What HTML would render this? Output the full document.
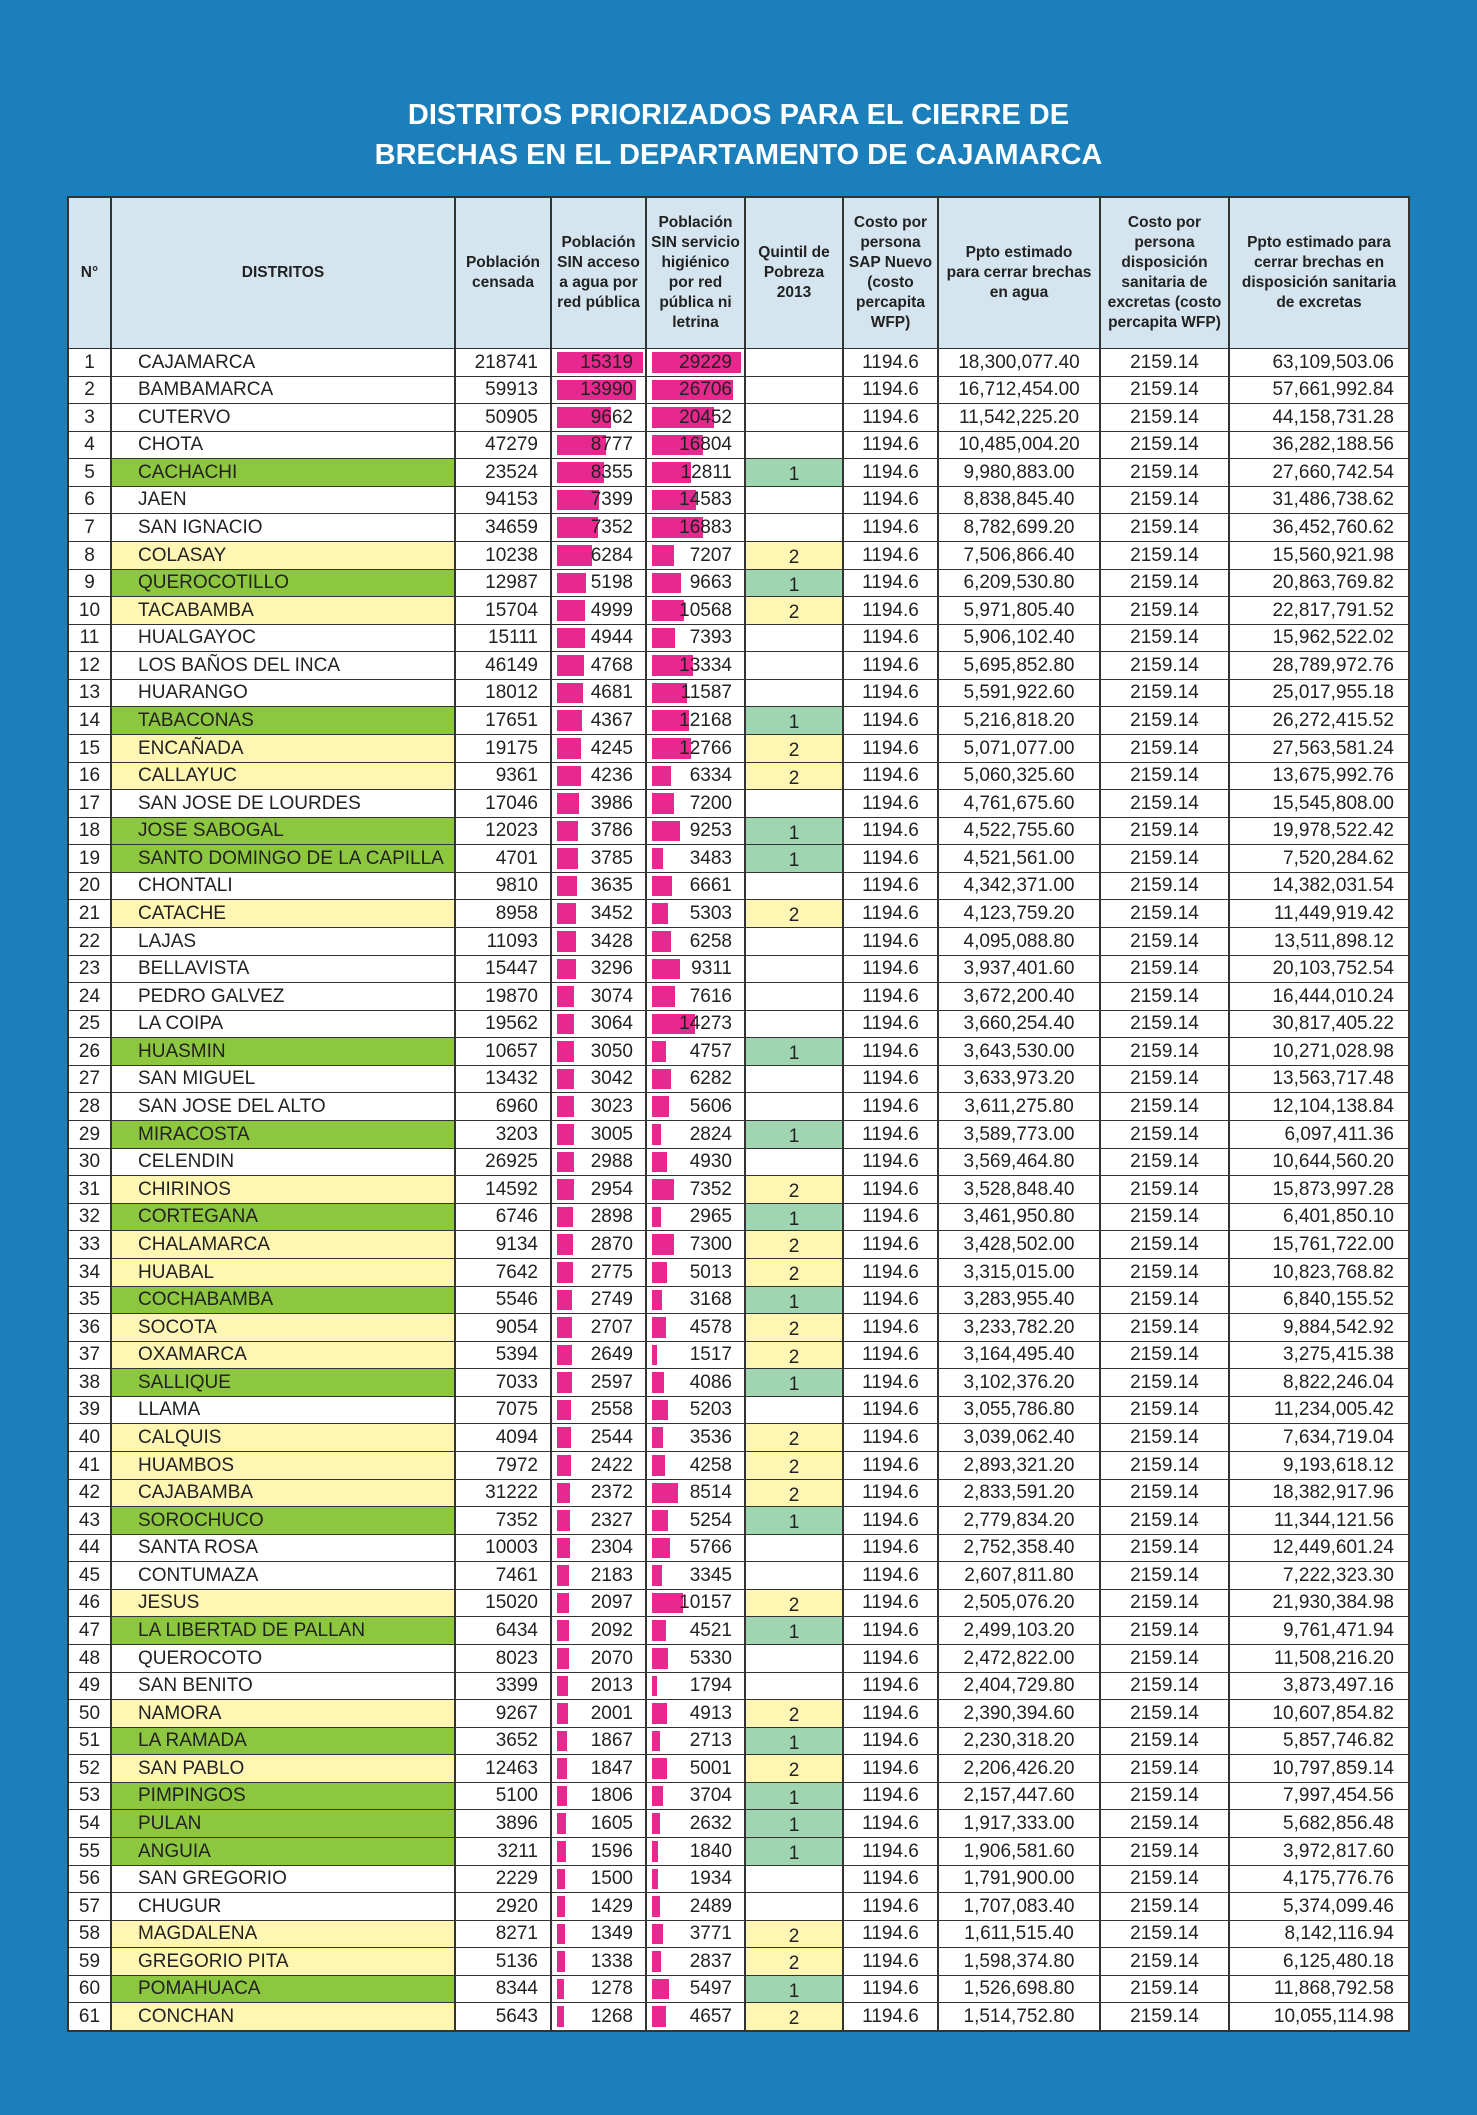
<!DOCTYPE html>
<html><head><meta charset="utf-8"><style>
body{margin:0;width:1477px;height:2115px;background:#1a7fba;position:relative;overflow:hidden;font-family:"Liberation Sans Narrow","Liberation Sans",sans-serif;}
#title{position:absolute;left:0;width:1477px;top:95px;text-align:center;color:#fff;font-family:"Liberation Sans",sans-serif;font-weight:bold;font-size:29px;line-height:40px;}
.c{position:absolute;box-sizing:border-box;border-right:2px solid #333;border-bottom:2px solid #333;color:#222;font-size:19px;white-space:nowrap;overflow:hidden;}
.h{background:#d5e5ef;font-weight:bold;font-size:15.5px;line-height:20px;display:flex;align-items:center;justify-content:center;text-align:center;}
.bar{position:absolute;background:#e8288e;}
.t{position:absolute;top:0;bottom:0;display:flex;align-items:center;}
</style></head><body>
<div id="title">DISTRITOS PRIORIZADOS PARA EL CIERRE DE<br>BRECHAS EN EL DEPARTAMENTO DE CAJAMARCA</div>
<div id="tbl"></div>
<script>
const names=["CAJAMARCA","BAMBAMARCA","CUTERVO","CHOTA","CACHACHI","JAEN","SAN IGNACIO","COLASAY","QUEROCOTILLO","TACABAMBA","HUALGAYOC","LOS BAÑOS DEL INCA","HUARANGO","TABACONAS","ENCAÑADA","CALLAYUC","SAN JOSE DE LOURDES","JOSE SABOGAL","SANTO DOMINGO DE LA CAPILLA","CHONTALI","CATACHE","LAJAS","BELLAVISTA","PEDRO GALVEZ","LA COIPA","HUASMIN","SAN MIGUEL","SAN JOSE DEL ALTO","MIRACOSTA","CELENDIN","CHIRINOS","CORTEGANA","CHALAMARCA","HUABAL","COCHABAMBA","SOCOTA","OXAMARCA","SALLIQUE","LLAMA","CALQUIS","HUAMBOS","CAJABAMBA","SOROCHUCO","SANTA ROSA","CONTUMAZA","JESUS","LA LIBERTAD DE PALLAN","QUEROCOTO","SAN BENITO","NAMORA","LA RAMADA","SAN PABLO","PIMPINGOS","PULAN","ANGUIA","SAN GREGORIO","CHUGUR","MAGDALENA","GREGORIO PITA","POMAHUACA","CONCHAN"];
const poblacion=[218741,59913,50905,47279,23524,94153,34659,10238,12987,15704,15111,46149,18012,17651,19175,9361,17046,12023,4701,9810,8958,11093,15447,19870,19562,10657,13432,6960,3203,26925,14592,6746,9134,7642,5546,9054,5394,7033,7075,4094,7972,31222,7352,10003,7461,15020,6434,8023,3399,9267,3652,12463,5100,3896,3211,2229,2920,8271,5136,8344,5643];
const sinAgua=[15319,13990,9662,8777,8355,7399,7352,6284,5198,4999,4944,4768,4681,4367,4245,4236,3986,3786,3785,3635,3452,3428,3296,3074,3064,3050,3042,3023,3005,2988,2954,2898,2870,2775,2749,2707,2649,2597,2558,2544,2422,2372,2327,2304,2183,2097,2092,2070,2013,2001,1867,1847,1806,1605,1596,1500,1429,1349,1338,1278,1268];
const sinSanit=[29229,26706,20452,16804,12811,14583,16883,7207,9663,10568,7393,13334,11587,12168,12766,6334,7200,9253,3483,6661,5303,6258,9311,7616,14273,4757,6282,5606,2824,4930,7352,2965,7300,5013,3168,4578,1517,4086,5203,3536,4258,8514,5254,5766,3345,10157,4521,5330,1794,4913,2713,5001,3704,2632,1840,1934,2489,3771,2837,5497,4657];
const quintil=[0,0,0,0,1,0,0,2,1,2,0,0,0,1,2,2,0,1,1,0,2,0,0,0,0,1,0,0,1,0,2,1,2,2,1,2,2,1,0,2,2,2,1,0,0,2,1,0,0,2,1,2,1,1,1,0,0,2,2,1,2];
const costoAgua=1194.6, costoSanit=2159.14;

const X=[67,112,456,552,647,746,844,939,1101,1230,1410];
const TOP=196,HB=349,RH=(2031-349)/61;
const tbl=document.getElementById('tbl');
function cell(ci,y,h,cls){const d=document.createElement('div');d.className='c '+cls;d.style.left=X[ci]+'px';d.style.top=y+'px';d.style.width=(X[ci+1]-X[ci])+'px';d.style.height=h+'px';if(ci==0)d.style.borderLeft='2px solid #333';tbl.appendChild(d);return d;}
const heads=["N°","DISTRITOS","Población<br>censada","Población<br>SIN acceso<br>a agua por<br>red pública","Población<br>SIN servicio<br>higiénico<br>por red<br>pública ni<br>letrina","Quintil de<br>Pobreza<br>2013","Costo por<br>persona<br>SAP Nuevo<br>(costo<br>percapita<br>WFP)","Ppto estimado<br>para cerrar brechas<br>en agua","Costo por<br>persona<br>disposición<br>sanitaria de<br>excretas (costo<br>percapita WFP)","Ppto estimado para<br>cerrar brechas en<br>disposición sanitaria<br>de excretas"];
const hnames=["header-number","header-districts","header-population","header-no-water","header-no-sanitation","header-poverty-quintile","header-water-cost","header-water-budget","header-sanitation-cost","header-sanitation-budget"];
heads.forEach((t,i)=>{const d=cell(i,TOP,HB-TOP+1,'h');d.style.borderTop='2px solid #333';d.innerHTML=t;

});
const fmt=v=>v.toLocaleString('en-US',{minimumFractionDigits:2,maximumFractionDigits:2});
const maxA=Math.max(...sinAgua),maxS=Math.max(...sinSanit);
function txt(d,s,align,pad){const t=document.createElement('div');t.className='t';t.textContent=s;if(align=='l'){t.style.left=pad+'px';}else if(align=='r'){t.style.right=pad+'px';}else{t.style.left='0';t.style.right='0';t.style.justifyContent='center';}d.appendChild(t);return t;}
names.forEach((n,i)=>{
 const y=Math.round(HB+i*RH),h=Math.round(HB+(i+1)*RH)-y+1;
 const q=quintil[i];
 const c0=cell(0,y,h,'');c0.style.background='#fff';txt(c0,String(i+1),'c');
 
 
 const c1=cell(1,y,h,'');c1.style.background=q==1?'#8dc63f':q==2?'#fff6b3':'#fff';txt(c1,n,'l',26);
 
 
 const c2=cell(2,y,h,'');c2.style.background='#fff';txt(c2,String(poblacion[i]),'r',12);
 
 
 const c3=cell(3,y,h,'');c3.style.background='#fff';
 const b1=document.createElement('div');b1.className='bar';b1.style.left='5px';b1.style.top='3px';b1.style.bottom='3px';b1.style.width=(86*sinAgua[i]/maxA)+'px';c3.appendChild(b1);
 
 
 txt(c3,String(sinAgua[i]),'r',12);
 
 
 const c4=cell(4,y,h,'');c4.style.background='#fff';
 const b2=document.createElement('div');b2.className='bar';b2.style.left='5px';b2.style.top='3px';b2.style.bottom='3px';b2.style.width=(89*sinSanit[i]/maxS)+'px';c4.appendChild(b2);
 
 
 txt(c4,String(sinSanit[i]),'r',12);
 
 
 const c5=cell(5,y,h,'');c5.style.background=q==1?'#a0d5b2':q==2?'#fff6b3':'#fff';
 if(q){const t=txt(c5,String(q),'c');t.style.top='5px';}
 
 
 const c6=cell(6,y,h,'');c6.style.background='#fff';txt(c6,String(costoAgua),'c');
 
 
 const c7=cell(7,y,h,'');c7.style.background='#fff';txt(c7,fmt(sinAgua[i]*costoAgua),'c');
 
 
 const c8=cell(8,y,h,'');c8.style.background='#fff';txt(c8,String(costoSanit),'c');
 
 
 const c9=cell(9,y,h,'');c9.style.background='#fff';txt(c9,fmt(sinSanit[i]*costoSanit),'r',14);
 
 
});
</script>
</body></html>
